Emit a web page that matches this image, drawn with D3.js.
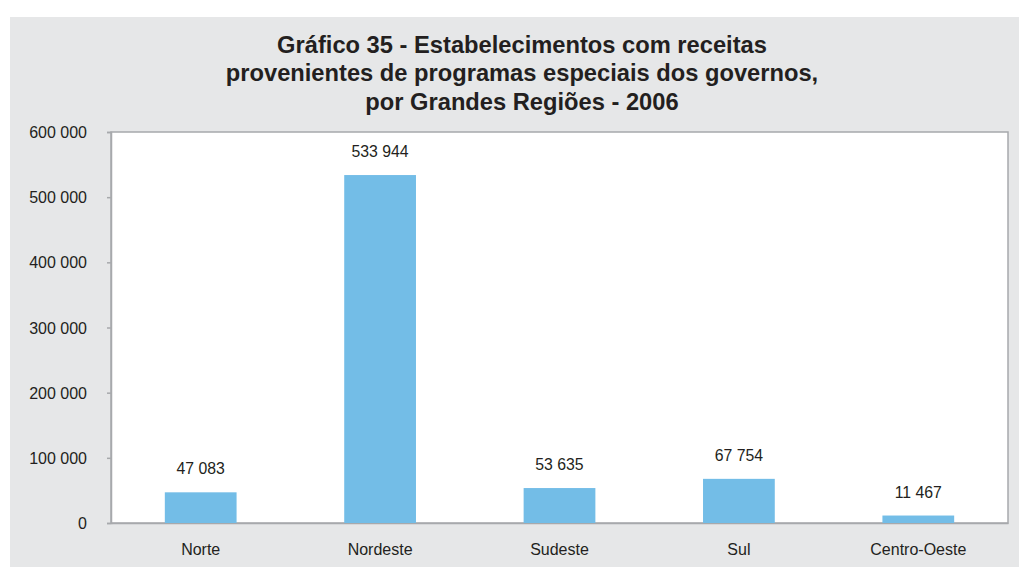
<!DOCTYPE html>
<html>
<head>
<meta charset="utf-8">
<script src="https://cdn.jsdelivr.net/npm/d3@7"></script>
<style>
  html, body { margin: 0; padding: 0; background: #ffffff; }
  svg { display: block; }
  text { font-family: "Liberation Sans", Arial, Helvetica, sans-serif; fill: #231f20; }
</style>
</head>
<body>
<svg id="chart" width="1019" height="567"></svg>
<script>
// Regions and number of establishments with revenue from special government programmes, 2006
const regions = ["Norte", "Nordeste", "Sudeste", "Sul", "Centro-Oeste"];
const establishments = [47083, 533944, 53635, 67754, 11467];
const yTicks = [0, 100000, 200000, 300000, 400000, 500000, 600000];
const titleLines = [
  "Gráfico 35 - Estabelecimentos com receitas",
  "provenientes de programas especiais dos governos,",
  "por Grandes Regiões - 2006"
];

const svg = d3.select("#chart");
const W = 1019, H = 567;
const plot = { left: 111, right: 1008, top: 132, bottom: 523 };

// grey panel behind everything
svg.append("rect")
  .attr("x", 10).attr("y", 17)
  .attr("width", W - 10).attr("height", H - 17)
  .attr("fill", "#e6e7e8");

// title
svg.append("g").selectAll("text")
  .data(titleLines)
  .join("text")
  .attr("x", 522)
  .attr("y", (d, i) => 52.5 + i * 28.5)
  .attr("text-anchor", "middle")
  .style("font-size", "23.7px")
  .style("font-weight", "bold")
  .text(d => d);

// white plotting area
svg.append("rect")
  .attr("x", plot.left).attr("y", plot.top)
  .attr("width", plot.right - plot.left).attr("height", plot.bottom - plot.top)
  .attr("fill", "#ffffff")
  .attr("stroke", "#a7a9ac")
  .attr("stroke-width", 1.5);

const x = d3.scaleBand()
  .domain(regions)
  .range([plot.left, plot.right])
  .paddingInner(0.6)
  .paddingOuter(0.3);

const y = d3.scaleLinear()
  .domain([0, 600000])
  .range([plot.bottom, plot.top]);

const fmt = v => d3.format(",")(v).replace(/,/g, " ");

// y axis
const yAxis = svg.append("g")
  .attr("transform", `translate(${plot.left},0)`)
  .call(d3.axisLeft(y).tickValues(yTicks).tickSize(4).tickPadding(20).tickFormat(fmt));
yAxis.select(".domain").attr("stroke", "#a7a9ac").attr("stroke-width", 1.5);
yAxis.selectAll(".tick line").attr("stroke", "#a7a9ac").attr("stroke-width", 1.5);
yAxis.selectAll(".tick text")
  .style("font-size", "16px")
  .attr("fill", "#231f20")
  .attr("dy", "0.35em");

// x axis
const xAxis = svg.append("g")
  .attr("transform", `translate(0,${plot.bottom})`)
  .call(d3.axisBottom(x).tickSize(0).tickPadding(21));
xAxis.select(".domain").attr("stroke", "#a7a9ac").attr("stroke-width", 1.5);
xAxis.selectAll(".tick text")
  .style("font-size", "16px")
  .attr("fill", "#231f20");

// bars
svg.append("g").selectAll("rect")
  .data(regions)
  .join("rect")
  .attr("x", d => x(d))
  .attr("width", x.bandwidth())
  .attr("y", (d, i) => y(establishments[i]))
  .attr("height", (d, i) => y(0) - y(establishments[i]))
  .attr("fill", "#73bde7");

// value labels
svg.append("g").selectAll("text")
  .data(regions)
  .join("text")
  .attr("x", d => x(d) + x.bandwidth() / 2)
  .attr("y", (d, i) => y(establishments[i]) - 18)
  .attr("text-anchor", "middle")
  .style("font-size", "15.8px")
  .text((d, i) => fmt(establishments[i]));
</script>
</body>
</html>
